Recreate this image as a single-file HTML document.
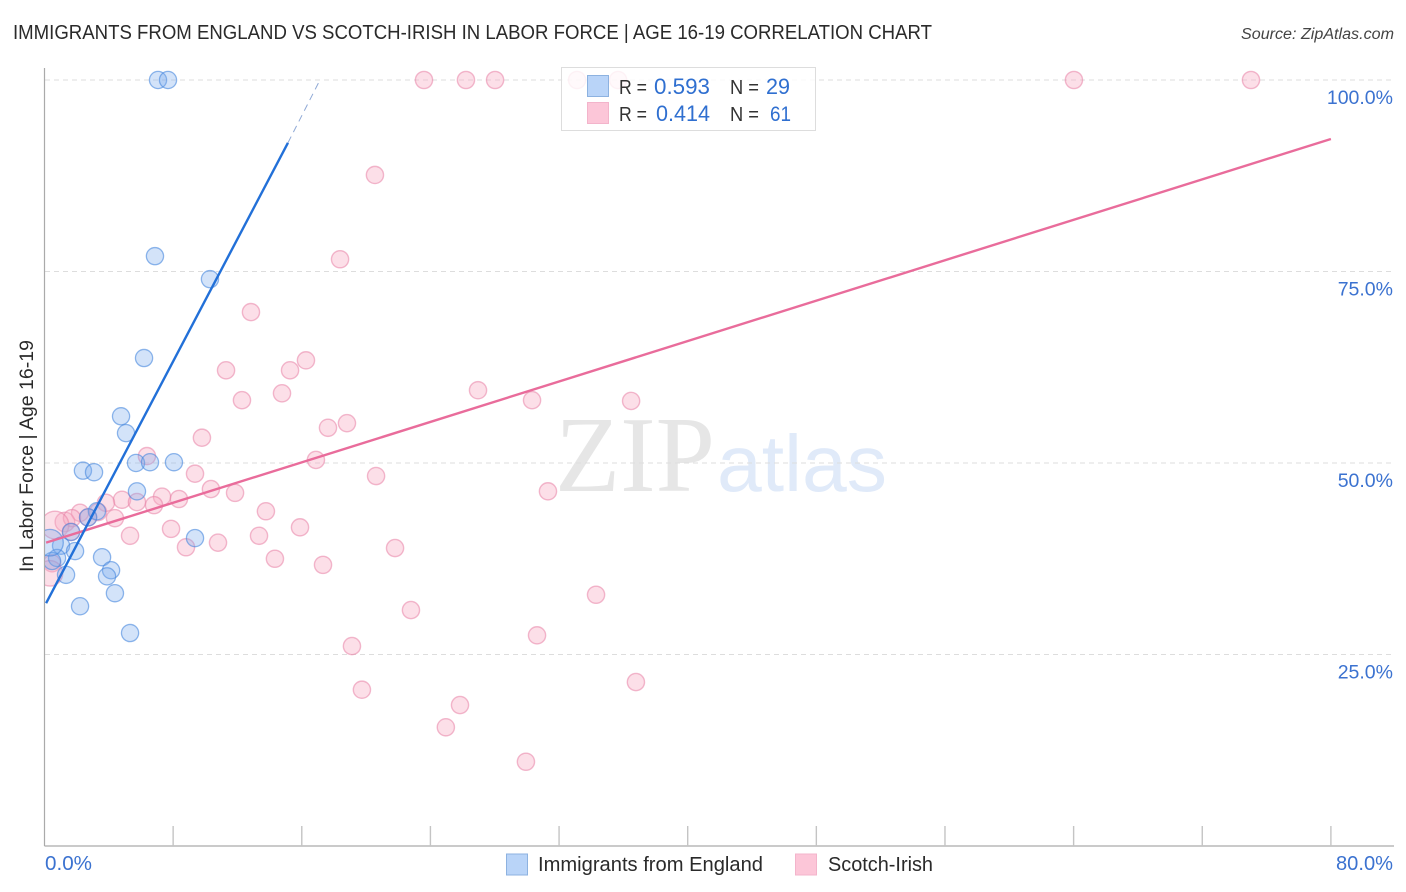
<!DOCTYPE html>
<html lang="en">
<head>
<meta charset="utf-8">
<title>Immigrants from England vs Scotch-Irish in Labor Force correlation chart</title>
<style>
html,body{margin:0;padding:0;background:#fff;width:1406px;height:892px;overflow:hidden}
svg{display:block}
text{font-family:"Liberation Sans",sans-serif}
</style>
</head>
<body>
<svg id="chart" xmlns="http://www.w3.org/2000/svg" width="1406" height="892" viewBox="0 0 1406 892">
  <defs>
    <clipPath id="plot-clip"><rect x="45" y="60" width="1349" height="786"/></clipPath>
  </defs>
  <text x="13" y="39" font-size="20" fill="#2a2a2a" textLength="919" lengthAdjust="spacingAndGlyphs">IMMIGRANTS FROM ENGLAND VS SCOTCH-IRISH IN LABOR FORCE | AGE 16-19 CORRELATION CHART</text>
  <text x="1241" y="39" font-size="15.5" font-style="italic" fill="#444" textLength="153" lengthAdjust="spacingAndGlyphs">Source: ZipAtlas.com</text>
  <text x="555" y="491" font-size="108" fill="#e6e6e6" style="font-family:'Liberation Serif',serif" textLength="160" lengthAdjust="spacingAndGlyphs">ZIP</text>
  <text x="717" y="491" font-size="80" fill="#e0eaf9" textLength="170" lengthAdjust="spacingAndGlyphs">atlas</text>
  <g id="grid"></g>
  <g id="axes">
    <line x1="44.5" y1="68" x2="44.5" y2="846" stroke="#aaa" stroke-width="1.2"/>
    <line x1="44.5" y1="846" x2="1394" y2="846" stroke="#aaa" stroke-width="1.2"/>
  </g>
  <g id="ticks"></g>
  <g id="ylabels"></g>
  <g id="xlabels"></g>
  <text transform="translate(33,456) rotate(-90)" font-size="19.5" fill="#2a2a2a" text-anchor="middle" textLength="232" lengthAdjust="spacingAndGlyphs">In Labor Force | Age 16-19</text>
  <g id="pink-points" clip-path="url(#plot-clip)"></g>
  <g id="blue-points" clip-path="url(#plot-clip)"></g>
  <g id="lines"></g>

  <g>
    <rect x="561.5" y="67.5" width="254" height="63" fill="#fff" fill-opacity="0.82" stroke="#ddd" stroke-width="1"/>
    <rect x="587.5" y="75.5" width="21" height="21" fill="#b9d4f8" stroke="#8db2e0"/>
    <rect x="587.5" y="102.5" width="21" height="21" fill="#fcc6d8" stroke="#f3b4cb"/>
    <text x="619" y="94" font-size="20" fill="#333" textLength="28" lengthAdjust="spacingAndGlyphs">R =</text>
    <text x="654" y="94" font-size="22" fill="#2f6fd0" textLength="56" lengthAdjust="spacingAndGlyphs">0.593</text>
    <text x="730" y="94" font-size="20" fill="#333" textLength="29" lengthAdjust="spacingAndGlyphs">N =</text>
    <text x="766" y="94" font-size="22" fill="#2f6fd0" textLength="24" lengthAdjust="spacingAndGlyphs">29</text>
    <text x="619" y="121" font-size="20" fill="#333" textLength="28" lengthAdjust="spacingAndGlyphs">R =</text>
    <text x="656" y="121" font-size="22" fill="#2f6fd0" textLength="54" lengthAdjust="spacingAndGlyphs">0.414</text>
    <text x="730" y="121" font-size="20" fill="#333" textLength="29" lengthAdjust="spacingAndGlyphs">N =</text>
    <text x="770" y="121" font-size="21" fill="#2f6fd0" textLength="21" lengthAdjust="spacingAndGlyphs">61</text>
  </g>

  <g>
    <rect x="506.5" y="854" width="21" height="21" fill="#b9d4f8" stroke="#8db2e0"/>
    <text x="538" y="871" font-size="20" fill="#2a2a2a" textLength="225" lengthAdjust="spacingAndGlyphs">Immigrants from England</text>
    <rect x="795.5" y="854" width="21" height="21" fill="#fcc6d8" stroke="#f3b4cb"/>
    <text x="828" y="871" font-size="20" fill="#2a2a2a" textLength="105" lengthAdjust="spacingAndGlyphs">Scotch-Irish</text>
  </g>
</svg>
<script>
const yTickValues = [100, 75, 50, 25];
const yTickLabels = ['100.0%', '75.0%', '50.0%', '25.0%'];
const xTickValues = [8, 16, 24, 32, 40, 48, 56, 64, 72, 80];
const xEdgeValues = [0, 80];
const xEdgeLabels = ['0.0%', '80.0%'];

const blueX = [7.06,7.68,6.87,10.29,6.19,4.76,5.07,5.69,6.56,8.05,2.39,3.08,5.75,3.26,2.71,9.36,1.65,1.03,1.90,0.78,0.47,1.34,3.58,4.14,3.89,4.38,2.21,5.32,0.34];
const blueY = [100,100,77.0,74.0,63.7,56.1,53.9,50.0,50.1,50.1,49.0,48.8,46.3,43.7,42.9,40.2,41.0,39.2,38.5,37.6,37.2,35.4,37.7,36.0,35.2,33.0,31.3,27.8,39.6];
const blueWeight = [1,1,1,1,1,1,1,1,1,1,1,1,1,1,1,1,1,1,1,1,1,1,1,1,1,1,1,1,2.4];

const pinkX = [23.6,26.21,28.02,33.12,35.67,64.02,75.03,20.55,18.38,12.84,11.29,15.27,16.26,14.77,12.28,17.63,18.81,26.96,30.32,36.48,9.79,6.37,16.88,9.36,20.62,10.35,11.85,31.31,7.31,8.36,4.82,5.75,6.81,3.82,4.38,2.21,2.71,3.33,1.27,1.71,0.65,1.65,5.32,7.87,8.80,10.79,13.34,13.77,14.33,15.89,17.32,21.80,22.79,34.3,30.63,19.12,36.78,19.74,25.84,24.96,29.94,0.47,0.34];
const pinkY = [100,100,100,100,100,100,100,87.6,76.6,69.7,62.1,62.1,63.4,59.1,58.2,54.6,55.2,59.5,58.2,58.1,53.3,50.9,50.4,48.6,48.3,46.6,46.1,46.3,45.6,45.3,45.2,44.9,44.5,44.8,42.8,43.5,42.9,43.6,42.3,42.8,41.9,41.0,40.5,41.4,39.0,39.6,40.5,43.7,37.5,41.6,36.7,38.9,30.8,32.8,27.5,26.1,21.4,20.4,18.4,15.5,11.0,36.9,35.6];
const pinkWeight = [1,1,1,1,1,1,1,1,1,1,1,1,1,1,1,1,1,1,1,1,1,1,1,1,1,1,1,1,1,1,1,1,1,1,1,1,1,1,1.3,1,2.6,1,1,1,1,1,1,1,1,1,1,1,1,1,1,1,1,1,1,1,1,1,2.2];

const blueTrendX = [0.1, 15.14];
const blueTrendY = [31.7, 91.8];
const blueDashX = [15.14, 17.13];
const blueDashY = [91.8, 100];
const pinkTrendX = [0.1, 80];
const pinkTrendY = [39.6, 92.3];

const NS = 'http://www.w3.org/2000/svg';
const sx = v => 44.5 + v * 16.08;
const sy = v => 846 - v * 7.66;
const mk = (tag, parent) => {
  const e = document.createElementNS(NS, tag);
  document.getElementById(parent).appendChild(e);
  return e;
};

yTickValues.forEach((v, i) => {
  const g = mk('line', 'grid');
  
  
  g.setAttribute('x1', 45);
  g.setAttribute('x2', 1394);
  g.setAttribute('y1', sy(v));
  g.setAttribute('y2', sy(v));
  g.setAttribute('stroke', '#ddd');
  g.setAttribute('stroke-width', '1');
  g.setAttribute('stroke-dasharray', '5 4');
  const t = mk('text', 'ylabels');
  
  
  t.setAttribute('x', 1393);
  t.setAttribute('y', sy(v) + 24);
  t.setAttribute('text-anchor', 'end');
  t.setAttribute('font-size', '19.5');
  t.setAttribute('fill', '#3b72d0');
  t.textContent = yTickLabels[i];
});

xTickValues.forEach(v => {
  const l = mk('line', 'ticks');
  
  
  l.setAttribute('x1', sx(v));
  l.setAttribute('x2', sx(v));
  l.setAttribute('y1', 826);
  l.setAttribute('y2', 846);
  l.setAttribute('stroke', '#c4c4c4');
  l.setAttribute('stroke-width', '1.4');
});

xEdgeValues.forEach((v, i) => {
  const t = mk('text', 'xlabels');
  
  
  t.setAttribute('x', i === 0 ? sx(v) + 0.5 : 1336);
  t.setAttribute('y', 870);
  t.setAttribute('textLength', i === 0 ? 47 : 57);
  t.setAttribute('lengthAdjust', 'spacingAndGlyphs');
  t.setAttribute('font-size', '20');
  t.setAttribute('fill', '#3b72d0');
  t.textContent = xEdgeLabels[i];
});

pinkX.forEach((v, i) => {
  const c = mk('circle', 'pink-points');
  
  
  c.setAttribute('cx', sx(v));
  c.setAttribute('cy', sy(pinkY[i]));
  c.setAttribute('r', 8.6 * Math.sqrt(pinkWeight[i]));
  c.setAttribute('fill', 'rgba(248,170,195,0.38)');
  c.setAttribute('stroke', 'rgba(232,130,165,0.55)');
  c.setAttribute('stroke-width', '1.4');
});

blueX.forEach((v, i) => {
  const c = mk('circle', 'blue-points');
  
  
  c.setAttribute('cx', sx(v));
  c.setAttribute('cy', sy(blueY[i]));
  c.setAttribute('r', 8.6 * Math.sqrt(blueWeight[i]));
  c.setAttribute('fill', 'rgba(120,170,238,0.33)');
  c.setAttribute('stroke', 'rgba(70,135,222,0.6)');
  c.setAttribute('stroke-width', '1.3');
});

const pinkLine = mk('line', 'lines');


pinkLine.setAttribute('x1', sx(pinkTrendX[0]));
pinkLine.setAttribute('y1', sy(pinkTrendY[0]));
pinkLine.setAttribute('x2', sx(pinkTrendX[1]));
pinkLine.setAttribute('y2', sy(pinkTrendY[1]));
pinkLine.setAttribute('stroke', '#e96c9b');
pinkLine.setAttribute('stroke-width', '2.4');

const blueLine = mk('line', 'lines');


blueLine.setAttribute('x1', sx(blueTrendX[0]));
blueLine.setAttribute('y1', sy(blueTrendY[0]));
blueLine.setAttribute('x2', sx(blueTrendX[1]));
blueLine.setAttribute('y2', sy(blueTrendY[1]));
blueLine.setAttribute('stroke', '#2270d8');
blueLine.setAttribute('stroke-width', '2.4');

const blueDash = mk('line', 'lines');


blueDash.setAttribute('x1', sx(blueDashX[0]));
blueDash.setAttribute('y1', sy(blueDashY[0]));
blueDash.setAttribute('x2', sx(blueDashX[1]));
blueDash.setAttribute('y2', sy(blueDashY[1]));
blueDash.setAttribute('stroke', '#8fa9d6');
blueDash.setAttribute('stroke-width', '1');
blueDash.setAttribute('stroke-dasharray', '7 5');
</script>
</body>
</html>
